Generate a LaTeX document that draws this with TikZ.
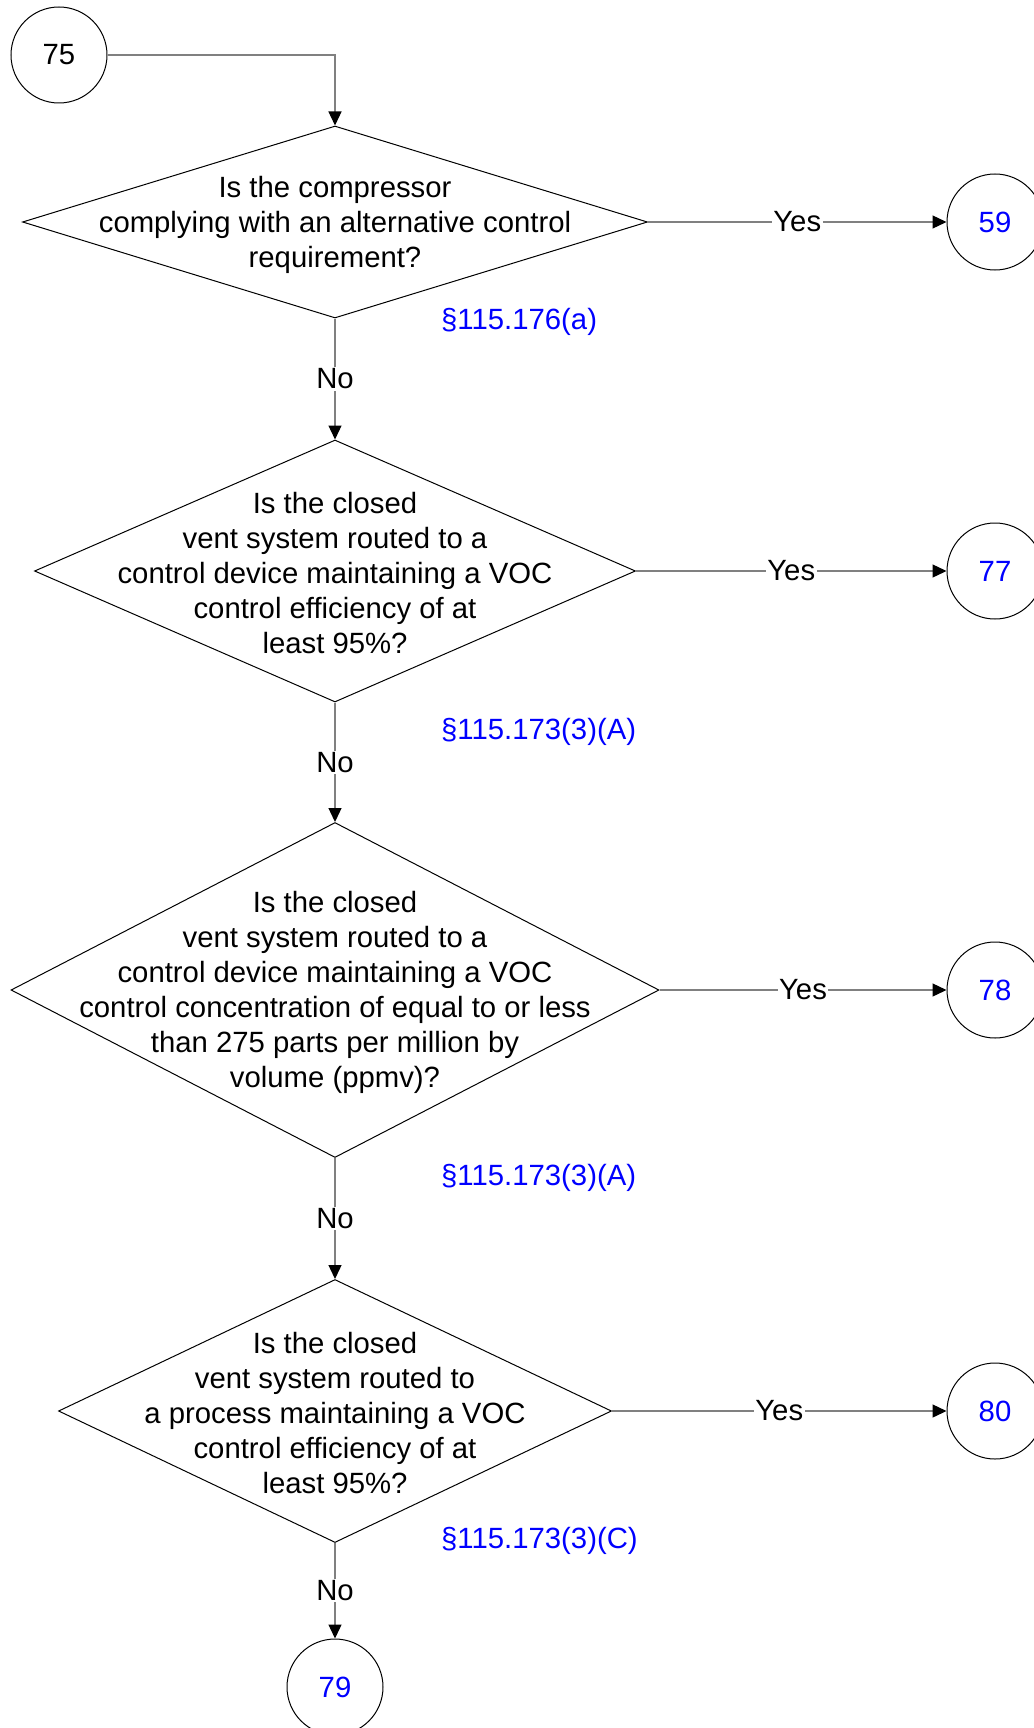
\documentclass[tikz,border=0pt]{standalone}
\usepackage{fontspec}
\setmainfont{Liberation Sans}
\usetikzlibrary{shapes.geometric,arrows.meta}
\definecolor{linkblue}{RGB}{0,0,255}
\definecolor{conngray}{RGB}{128,128,128}
\newcommand{\dfont}{\fontsize{29.3}{35}\selectfont}
\tikzset{
  dia/.style={diamond, draw=black, line width=1pt, inner sep=0pt},
  qtext/.style={align=center, font=\dfont, inner sep=0pt, yshift=-2.5pt},
  conn/.style={draw=conngray, line width=1.3pt, -{Triangle[length=14pt,width=13pt,color=black]}},
  refc/.style={circle, draw=black, line width=1pt, minimum size=96pt, inner sep=0pt, font=\dfont},
  sect/.style={anchor=west, text=linkblue, font=\dfont, inner sep=0pt},
  lab/.style={fill=white, inner sep=1.5pt, font=\dfont, text=black}
}
\begin{document}
\begin{tikzpicture}[x=1pt,y=-1pt]
\useasboundingbox (0,0) rectangle (1033,1728);

% connector nodes
\node[refc] (c75) at (59,55) {75};
\node[refc, text=linkblue] (c59) at (995,222) {59};
\node[refc, text=linkblue] (c77) at (995,571) {77};
\node[refc, text=linkblue] (c78) at (995,990) {78};
\node[refc, text=linkblue] (c80) at (995,1411) {80};
\node[refc, text=linkblue] (c79) at (335,1687) {79};

% decisions
\node[dia, minimum width=625pt, minimum height=192pt] (d1) at (335,222) {};
\node[qtext] (t1) at (d1.center) {Is the compressor\\complying with an alternative control\\requirement?};

\node[dia, minimum width=601pt, minimum height=262pt] (d2) at (335,571) {};
\node[qtext] (t2) at (d2.center) {Is the closed\\vent system routed to a\\control device maintaining a VOC\\control efficiency of at\\least 95\%?};

\node[dia, minimum width=648pt, minimum height=335pt] (d3) at (335,990) {};
\node[qtext] (t3) at (d3.center) {Is the closed\\vent system routed to a\\control device maintaining a VOC\\control concentration of equal to or less\\than 275 parts per million by\\volume (ppmv)?};

\node[dia, minimum width=553pt, minimum height=263pt] (d4) at (335,1411) {};
\node[qtext] (t4) at (d4.center) {Is the closed\\vent system routed to\\a process maintaining a VOC\\control efficiency of at\\least 95\%?};

% section references
\node[sect] (s1) at (441,322) {§115.176(a)};
\node[sect] (s2) at (441,732) {§115.173(3)(A)};
\node[sect] (s3) at (441,1178) {§115.173(3)(A)};
\node[sect] (s4) at (441,1541) {§115.173(3)(C)};

% connectors
\draw[conn] (c75.east) -| (d1.north);
\draw[conn] (d1.east) -- node[lab] {Yes} (c59.west);
\draw[conn] (d2.east) -- node[lab] {Yes} (c77.west);
\draw[conn] (d3.east) -- node[lab] {Yes} (c78.west);
\draw[conn] (d4.east) -- node[lab] {Yes} (c80.west);
\draw[conn] (d1.south) -- node[lab] {No} (d2.north);
\draw[conn] (d2.south) -- node[lab] {No} (d3.north);
\draw[conn] (d3.south) -- node[lab] {No} (d4.north);
\draw[conn] (d4.south) -- node[lab] {No} (c79.north);
\end{tikzpicture}
\end{document}
